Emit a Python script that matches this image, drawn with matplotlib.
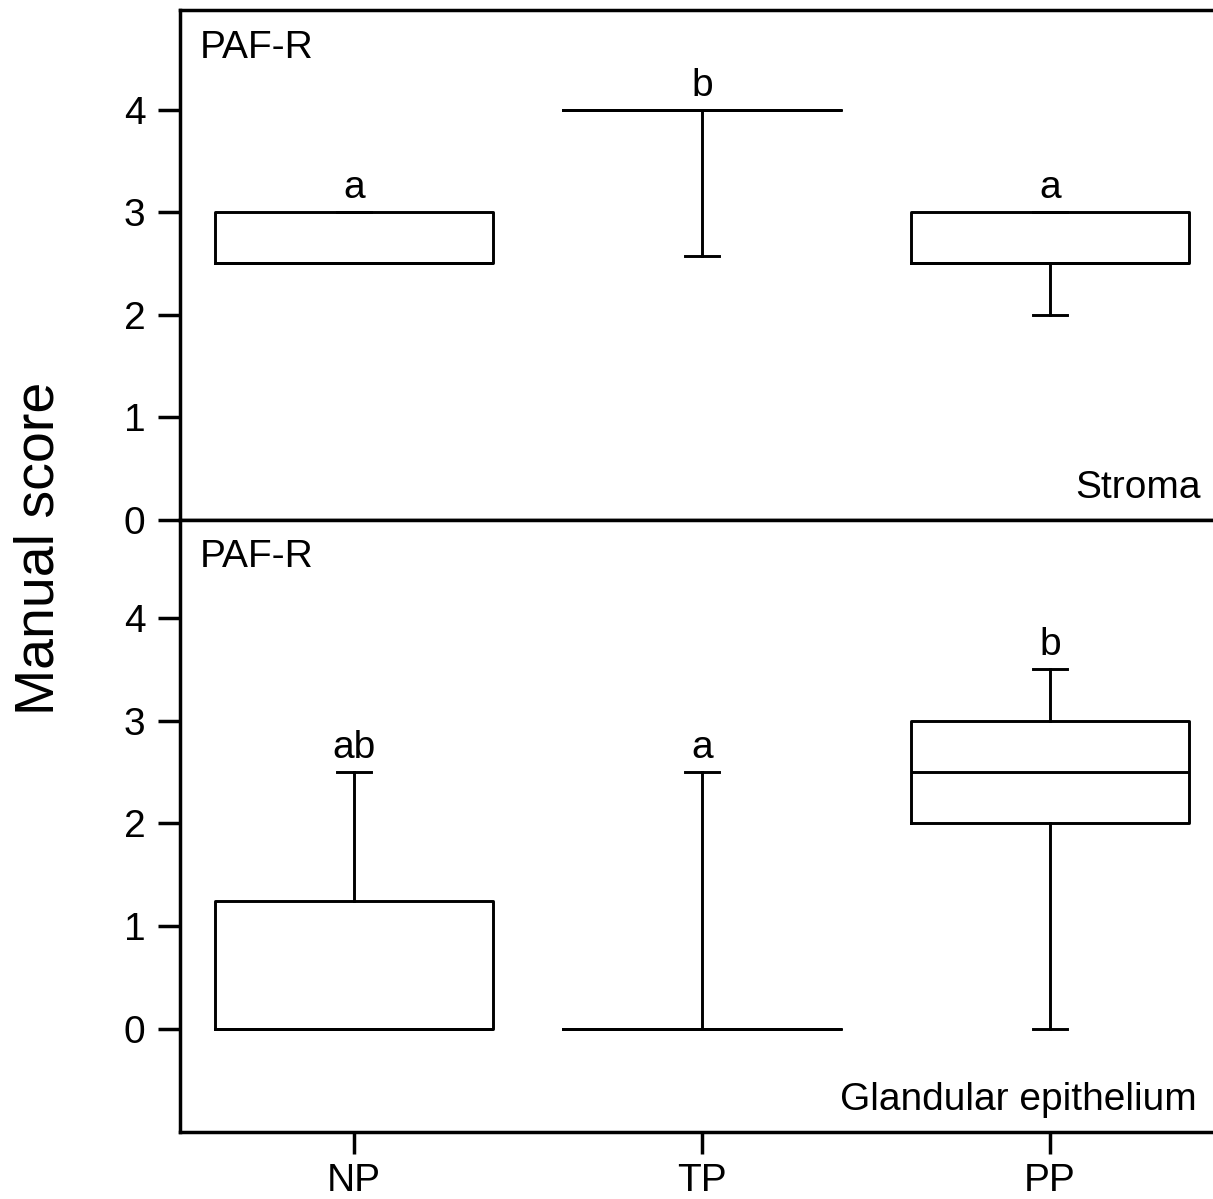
import matplotlib
matplotlib.use("Agg")
import matplotlib.pyplot as plt

plt.rcParams['font.family'] = ['Liberation Sans', 'DejaVu Sans']

groups = ["NP", "TP", "PP"]
positions = [1, 2, 3]

# Stroma panel: whislo, q1, median, q3, whishi
stroma_whislo = [2.5, 2.575, 2.0]
stroma_q1 = [2.5, 4.0, 2.5]
stroma_med = [2.5, 4.0, 2.5]
stroma_q3 = [3.0, 4.0, 3.0]
stroma_whishi = [3.0, 4.0, 3.0]
stroma_letters = ["a", "b", "a"]

# Glandular epithelium panel
gland_whislo = [0.0, 0.0, 0.0]
gland_q1 = [0.0, 0.0, 2.0]
gland_med = [0.0, 0.0, 2.5]
gland_q3 = [1.25, 0.0, 3.0]
gland_whishi = [2.5, 2.5, 3.5]
gland_letters = ["ab", "a", "b"]

yticks = [0, 1, 2, 3, 4]

W, H = 1213, 1199
fig = plt.figure(figsize=(W / 100, H / 100), dpi=100)

left = 180 / W
width = 1044 / W
ax_top = fig.add_axes([left, (H - 520) / H, width, (520 - 10) / H])
ax_bot = fig.add_axes([left, (H - 1132) / H, width, (1132 - 520) / H])

FS = 28
lw_box = 2.1
lw_spine = 2.5

def stats(lo, q1, med, q3, hi):
    return [dict(whislo=a, q1=b, med=c, q3=d, whishi=e, fliers=[])
            for a, b, c, d, e in zip(lo, q1, med, q3, hi)]

def draw(ax, st, letters, ylim):
    lp = dict(color='black', linewidth=lw_box)
    ax.bxp(st, positions=positions, widths=0.8, capwidths=0.1, showfliers=False,
           boxprops=lp, whiskerprops=lp, capprops=lp, medianprops=lp)
    for p, s, let in zip(positions, st, letters):
        ax.annotate(let, (p, s['whishi']), xytext=(0, 10), textcoords='offset points',
                    ha='center', va='baseline', fontsize=FS)
    ax.set_xlim(0.5, 3.5)
    ax.set_ylim(*ylim)
    ax.set_yticks(yticks)
    ax.set_yticklabels([str(t) for t in yticks])
    for sp in ax.spines.values():
        sp.set_linewidth(lw_spine)
    ax.tick_params(axis='y', direction='out', length=16, width=lw_spine, labelsize=FS, pad=9)
    ax.tick_params(axis='x', direction='out', length=16, width=lw_spine, labelsize=FS, pad=6)

draw(ax_top, stats(stroma_whislo, stroma_q1, stroma_med, stroma_q3, stroma_whishi),
     stroma_letters, (0, 4.97))
draw(ax_bot, stats(gland_whislo, gland_q1, gland_med, gland_q3, gland_whishi),
     gland_letters, (-1, 4.95))

ax_top.set_xticks([])
ax_bot.set_xticks(positions)
ax_bot.set_xticklabels(groups)

ax_top.text(20 / 1044, 0.925, "PAF-R", transform=ax_top.transAxes, fontsize=FS, va='center', ha='left')
ax_bot.text(20 / 1044, 0.94, "PAF-R", transform=ax_bot.transAxes, fontsize=FS, va='center', ha='left')
fig.text(1201 / W, 1 - 488 / H, "Stroma", fontsize=FS, ha='right', va='center')
fig.text(1197 / W, 1 - 1100 / H, "Glandular epithelium", fontsize=FS, ha='right', va='center')

fig.text(40 / W, 1 - 548 / H, "Manual score", fontsize=40, rotation=90, ha='center', va='center')

fig.savefig("out.png", dpi=100)
